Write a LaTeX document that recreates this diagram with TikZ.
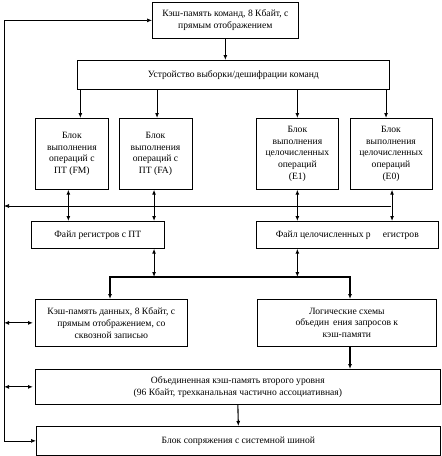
\documentclass[tikz,border=0pt]{standalone}
\usepackage{fontspec}
\setmainfont{Liberation Serif}
\usetikzlibrary{arrows.meta,positioning}

\begin{document}
\begin{tikzpicture}[x=1pt, y=-1pt,
  box/.style={draw, line width=0.7pt, align=center, anchor=north west, inner sep=1pt, font=\fontsize{9.6}{11.8}\selectfont},
  arr/.style={-{Latex[length=5pt, width=4pt]}, line width=1.1pt},
  darr/.style={{Latex[length=5pt, width=4pt]}-{Latex[length=5pt, width=4pt]}, line width=1.1pt},
  busline/.style={-{Latex[length=5pt, width=4pt]}, line width=0.7pt}
]
  \useasboundingbox (0,0) rectangle (442,456);
  \node[box, minimum width=146pt, minimum height=36pt] (icache) at (152,2) {Кэш-память команд, 8 Кбайт, с\\ прямым отображением};
  \node[box, minimum width=312pt, minimum height=29pt] (dec) at (77,60) {Устройство выборки/дешифрации команд};
  \node[box, minimum width=73pt, minimum height=71pt] (fm) at (35,118) {Блок\\ выполнения\\ операций с\\ ПТ (FM)};
  \node[box, minimum width=73pt, minimum height=71pt, right=10pt of fm] (fa) {Блок\\ выполнения\\ операций с\\ ПТ (FA)};
  \node[box, minimum width=82pt, minimum height=71pt] (e1) at (256,118) {Блок\\ выполнения\\ целочисленных\\ операций\\ (E1)};
  \node[box, minimum width=82pt, minimum height=71pt, right=11pt of e1] (e0) {Блок\\ выполнения\\ целочисленных\\ операций\\ (E0)};
  \node[box, minimum width=133pt, minimum height=27pt] (fpreg) at (31,221) {Файл регистров с ПТ};
  \node[box, minimum width=182pt, minimum height=27pt] (intreg) at (256,221) {Файл целочисленных р\hspace{12pt}егистров};
  \node[box, minimum width=152pt, minimum height=47pt] (dcache) at (35,299) {Кэш-память данных, 8 Кбайт, с\\ прямым отображением, со\\ сквозной записью};
  \node[box, minimum width=179pt, minimum height=47pt] (logic) at (257,299) {Логические схемы\\ объедин\hspace{4pt}ения запросов к\\ кэш-памяти};
  \node[box, minimum width=405pt, minimum height=35pt] (l2) at (35,369) {Объединенная кэш-память второго уровня\\ (96 Кбайт, трехканальная частично ассоциативная)};
  \node[box, minimum width=404pt, minimum height=29pt] (sysbus) at (36,426) {Блок сопряжения с системной шиной};

  \coordinate (lft) at (4,0);
  \coordinate (busr) at (391,206);
  \coordinate (brl) at (110,277);
  \coordinate (brr) at (350,277);

  % fetch and dispatch
  \draw[arr] (icache.south) -- (dec.north -| icache.south);
  \draw[arr] ([xshift=8.5pt]fm.north |- dec.south) -- ([xshift=8.5pt]fm.north);
  \draw[arr] ([xshift=1.5pt]fa.north |- dec.south) -- ([xshift=1.5pt]fa.north);
  \draw[arr] (e1.north |- dec.south) -- (e1.north);
  \draw[arr] ([xshift=-5pt]e0.north |- dec.south) -- ([xshift=-5pt]e0.north);

  % units to register files
  \draw[busline] (busr) -- (lft |- busr);
  \draw[darr] ([xshift=-3.5pt]fm.south) -- ([xshift=-3.5pt]fm.south |- fpreg.north);
  \draw[darr] ([xshift=-1.5pt]fa.south) -- ([xshift=-1.5pt]fa.south |- fpreg.north);
  \draw[darr] (e1.south) -- (e1.south |- intreg.north);
  \draw[darr] ([xshift=1pt]e0.south) -- ([xshift=1pt]e0.south |- intreg.north);

  % register files to caches
  \draw[darr] ([xshift=-1.5pt]fa.south |- fpreg.south) -- ([xshift=-1.5pt]fa.south |- brl);
  \draw[darr] (e1.south |- intreg.south) -- (e1.south |- brl);
  \draw[darr] (brl |- dcache.north) -- (brl) -- (brr) -- (brr |- logic.north);
  \draw[arr] (brr |- logic.south) -- (brr |- l2.north);
  \draw[arr] (l2.south) -- (sysbus.north);

  % left side
  \draw[busline, {Latex[length=5pt, width=4pt]}-{Latex[length=5pt, width=4pt]}] (icache.west) -| (lft |- sysbus.west) -- (sysbus.west);
  \draw[darr, shorten >=2pt] (lft |- dcache.west) -- (dcache.west);
  \draw[darr, shorten >=2pt] (lft |- l2.west) -- (l2.west);
\end{tikzpicture}
\end{document}
